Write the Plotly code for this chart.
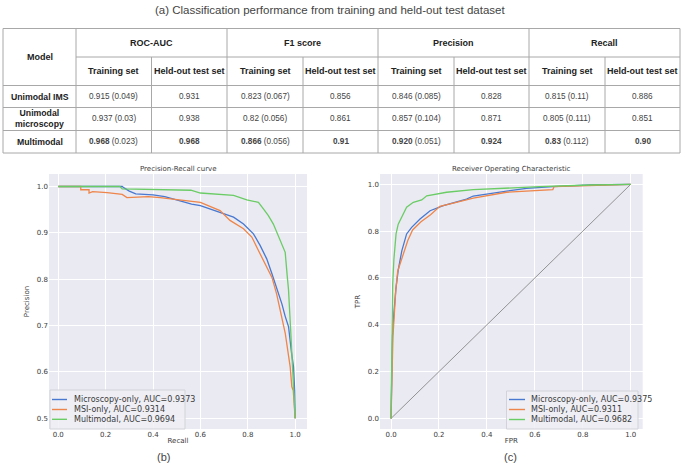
import plotly.graph_objects as go

# ---------------- data ----------------
table_title = "(a) Classification performance from training and held-out test dataset"
metrics = ["ROC-AUC", "F1 score", "Precision", "Recall"]
subheads = ["Training set", "Held-out test set"]
models = ["Unimodal IMS", "Unimodal<br>microscopy", "Multimodal"]
train_mean = [["0.915", "0.823", "0.846", "0.815"],
              ["0.937", "0.82", "0.857", "0.805"],
              ["0.968", "0.866", "0.920", "0.83"]]
train_sd = [["0.049", "0.067", "0.085", "0.11"],
            ["0.03", "0.056", "0.104", "0.111"],
            ["0.023", "0.056", "0.051", "0.112"]]
test_vals = [["0.931", "0.856", "0.828", "0.886"],
             ["0.938", "0.861", "0.871", "0.851"],
             ["0.968", "0.91", "0.924", "0.90"]]
best_model = 2

pr_micro_x = [0, 0.27, 0.278, 0.30, 0.327, 0.40, 0.45, 0.50, 0.563, 0.60, 0.683, 0.74, 0.782, 0.824,
              0.852, 0.88, 0.902, 0.929, 0.944, 0.958, 0.972, 0.985, 0.993, 0.998, 1.0]
pr_micro_y = [1.0, 1.0, 0.997, 0.99, 0.984, 0.982, 0.978, 0.971, 0.962, 0.959, 0.945, 0.934, 0.919, 0.898,
              0.873, 0.844, 0.812, 0.77, 0.747, 0.72, 0.698, 0.64, 0.611, 0.56, 0.5]
pr_msi_x = [0, 0.095, 0.095, 0.13, 0.13, 0.145, 0.206, 0.25, 0.27, 0.29, 0.38, 0.43, 0.47, 0.523, 0.60,
            0.683, 0.725, 0.782, 0.817, 0.845, 0.873, 0.902, 0.922, 0.958, 0.979, 0.986, 0.992, 1.0]
pr_msi_y = [1.0, 1.0, 0.993, 0.993, 0.986, 0.989, 0.987, 0.985, 0.983, 0.976, 0.978, 0.976, 0.974, 0.971,
            0.966, 0.948, 0.927, 0.909, 0.891, 0.862, 0.833, 0.804, 0.768, 0.684, 0.611, 0.568, 0.56, 0.5]
pr_multi_x = [0, 0.26, 0.27, 0.43, 0.56, 0.60, 0.74, 0.796, 0.845, 0.866, 0.887, 0.908, 0.929, 0.944,
              0.958, 0.966, 0.972, 0.98, 0.988, 0.995, 1.0]
pr_multi_y = [1.0, 1.0, 0.995, 0.993, 0.992, 0.986, 0.981, 0.971, 0.966, 0.952, 0.937, 0.919, 0.894, 0.873,
              0.858, 0.81, 0.777, 0.70, 0.62, 0.55, 0.5]

roc_micro_x = [0, 0.002, 0.006, 0.012, 0.02, 0.03, 0.045, 0.065, 0.086, 0.121, 0.163, 0.218, 0.315, 0.343,
               0.412, 0.482, 0.565, 0.675, 0.83, 1.0]
roc_micro_y = [0, 0.2, 0.35, 0.45, 0.55, 0.634, 0.716, 0.788, 0.816, 0.852, 0.887, 0.909, 0.937, 0.95,
               0.96, 0.972, 0.983, 0.99, 0.997, 1.0]
roc_msi_x = [0, 0.003, 0.008, 0.014, 0.02, 0.028, 0.05, 0.07, 0.09, 0.125, 0.165, 0.204, 0.26, 0.343,
             0.482, 0.60, 0.675, 0.68, 0.83, 1.0]
roc_msi_y = [0, 0.2, 0.35, 0.45, 0.55, 0.63, 0.70, 0.76, 0.805, 0.84, 0.87, 0.906, 0.92, 0.941,
             0.966, 0.973, 0.977, 0.99, 0.996, 1.0]
roc_multi_x = [0, 0.003, 0.007, 0.012, 0.021, 0.03, 0.065, 0.093, 0.128, 0.149, 0.232, 0.343, 0.48, 0.62,
               0.83, 1.0]
roc_multi_y = [0, 0.3, 0.574, 0.68, 0.788, 0.83, 0.902, 0.923, 0.933, 0.951, 0.966, 0.977, 0.985, 0.99,
               0.997, 1.0]
chance = [0, 1]

pr_names = ["Microscopy-only, AUC=0.9373", "MSI-only, AUC=0.9314", "Multimodal, AUC=0.9694"]
roc_names = ["Microscopy-only, AUC=0.9375", "MSI-only, AUC=0.9311", "Multimodal, AUC=0.9682"]
colors = ["#4878D0", "#EE854A", "#6ACC64"]

# ---------------- layout helpers ----------------
W, H = 683, 466
def px(x):
    return x / W
def py(y):
    return 1 - y / H

col_edges = [3, 76, 151.5, 227, 303, 378, 454, 529, 605, 680]
row_edges = [28.5, 57, 85.5, 107.5, 130.5, 153]
line_col = "#a8a8a8"
tfont = "Liberation Sans, Arial, sans-serif"
pfont = "DejaVu Sans, sans-serif"
txt_col = "#3a3a3a"

fig = go.Figure()
shapes = []
annotations = []

def hline(y, x0, x1, color=line_col, width=1):
    shapes.append(dict(type="line", xref="paper", yref="paper", x0=px(x0), x1=px(x1),
                       y0=py(y), y1=py(y), line=dict(color=color, width=width)))
def vline(x, y0, y1):
    shapes.append(dict(type="line", xref="paper", yref="paper", x0=px(x), x1=px(x),
                       y0=py(y0), y1=py(y1), line=dict(color=line_col, width=1)))
def cell_text(text, x0, x1, y0, y1, size=9, color="#333333"):
    annotations.append(dict(text=text, xref="paper", yref="paper", x=px((x0 + x1) / 2),
                            y=py((y0 + y1) / 2), xanchor="center", yanchor="middle",
                            showarrow=False, font=dict(family=tfont, size=size, color=color)))

# table grid
hline(row_edges[0], col_edges[0], col_edges[-1])
hline(row_edges[1], col_edges[1], col_edges[-1])
for r in row_edges[2:]:
    hline(r, col_edges[0], col_edges[-1])
for i, c in enumerate(col_edges):
    if i in (0, 1, 3, 5, 7, 9):
        vline(c, row_edges[0], row_edges[-1])
    else:
        vline(c, row_edges[1], row_edges[-1])

annotations.append(dict(text=table_title, xref="paper", yref="paper", x=px(330), y=py(10.5),
                        xanchor="center", yanchor="middle", showarrow=False,
                        font=dict(family=tfont, size=11.5, color="#444444")))
cell_text("<b>Model</b>", col_edges[0], col_edges[1], row_edges[0], row_edges[2], color="#222222")
for m, name in enumerate(metrics):
    cell_text("<b>%s</b>" % name, col_edges[1 + 2 * m], col_edges[3 + 2 * m], row_edges[0], row_edges[1],
              color="#222222")
    for s, sh in enumerate(subheads):
        cell_text("<b>%s</b>" % sh, col_edges[1 + 2 * m + s], col_edges[2 + 2 * m + s],
                  row_edges[1], row_edges[2], color="#222222")
for r, model in enumerate(models):
    y0, y1 = row_edges[2 + r], row_edges[3 + r]
    cell_text("<b>%s</b>" % model, col_edges[0], col_edges[1], y0, y1, size=8.7, color="#222222")
    for m in range(4):
        if r == best_model:
            tr = "<b>%s</b> (%s)" % (train_mean[r][m], train_sd[r][m])
            te = "<b>%s</b>" % test_vals[r][m]
        else:
            tr = "%s (%s)" % (train_mean[r][m], train_sd[r][m])
            te = test_vals[r][m]
        cell_text(tr, col_edges[1 + 2 * m], col_edges[2 + 2 * m], y0, y1, size=8.2, color="#444444")
        cell_text(te, col_edges[2 + 2 * m], col_edges[3 + 2 * m], y0, y1, size=8.2, color="#444444")

# ---------------- curves ----------------
pr_series = [(pr_micro_x, pr_micro_y), (pr_msi_x, pr_msi_y), (pr_multi_x, pr_multi_y)]
roc_series = [(roc_micro_x, roc_micro_y), (roc_msi_x, roc_msi_y), (roc_multi_x, roc_multi_y)]

for i, (xs, ys) in enumerate(pr_series):
    fig.add_trace(go.Scatter(x=xs, y=ys, mode="lines", name=pr_names[i], xaxis="x", yaxis="y",
                             line=dict(color=colors[i], width=1.3), showlegend=False))
fig.add_trace(go.Scatter(x=chance, y=chance, mode="lines", xaxis="x2", yaxis="y2", showlegend=False,
                         line=dict(color="#555555", width=0.6)))
for i, (xs, ys) in enumerate(roc_series):
    fig.add_trace(go.Scatter(x=xs, y=ys, mode="lines", name=roc_names[i], xaxis="x2", yaxis="y2",
                             line=dict(color=colors[i], width=1.3), showlegend=False))

# ---------------- legends (drawn as boxes with sample lines) ----------------
def draw_legend(names, box, line_x, text_x, rows):
    x0, y0, x1, y1 = box
    shapes.append(dict(type="rect", xref="paper", yref="paper", x0=px(x0), x1=px(x1), y0=py(y1), y1=py(y0),
                       fillcolor="rgba(238,238,244,0.85)", line=dict(color="#d2d2da", width=1), layer="above"))
    for i, name in enumerate(names):
        shapes.append(dict(type="line", xref="paper", yref="paper", x0=px(line_x[0]), x1=px(line_x[1]),
                           y0=py(rows[i]), y1=py(rows[i]), line=dict(color=colors[i], width=1.4),
                           layer="above"))
        annotations.append(dict(text=name, xref="paper", yref="paper", x=px(text_x), y=py(rows[i]),
                                xanchor="left", yanchor="middle", showarrow=False,
                                font=dict(family=pfont, size=8, color=txt_col)))

draw_legend(pr_names, (50, 390, 185, 429), (52, 67), 71.5, [399.5, 409.5, 419.3])
draw_legend(roc_names, (506.5, 391, 638, 429), (509, 525), 528.5, [399.5, 409.5, 419.5])

axis_common = dict(showgrid=True, gridcolor="white", gridwidth=1, zeroline=False, showline=False,
                   ticks="", tickfont=dict(family=pfont, size=7, color=txt_col),
                   title_font=dict(family=pfont, size=7, color=txt_col))
y_dom = [py(429), py(174)]
ticks01 = [0, 0.2, 0.4, 0.6, 0.8, 1.0]
ticks_pr = [0.5, 0.6, 0.7, 0.8, 0.9, 1.0]

fig.update_layout(
    width=W, height=H, margin=dict(l=0, r=0, t=0, b=0),
    paper_bgcolor="white", plot_bgcolor="#EAEAF2", showlegend=False,
    xaxis=dict(domain=[px(49), px(307)], range=[-0.039, 1.05], tickvals=ticks01,
               ticktext=["%.1f" % v for v in ticks01], anchor="y",
               title=dict(text="Recall", standoff=0), **axis_common),
    yaxis=dict(domain=y_dom, range=[0.477, 1.027], tickvals=ticks_pr,
               ticktext=["%.1f" % v for v in ticks_pr], anchor="x",
               title=dict(text="Precision", standoff=6), **axis_common),
    xaxis2=dict(domain=[px(380), px(642.7)], range=[-0.046, 1.05], tickvals=ticks01,
                ticktext=["%.1f" % v for v in ticks01], anchor="y2",
                title=dict(text="FPR", standoff=0), **axis_common),
    yaxis2=dict(domain=y_dom, range=[-0.045, 1.044], tickvals=ticks01,
                ticktext=["%.1f" % v for v in ticks01], anchor="x2",
                title=dict(text="TPR", standoff=6), **axis_common),
    shapes=shapes,
)

annotations += [
    dict(text="Precision-Recall curve", xref="paper", yref="paper", x=px(178), y=py(174.5),
         xanchor="center", yanchor="bottom", showarrow=False, font=dict(family=pfont, size=7, color=txt_col)),
    dict(text="Receiver Operating Characteristic", xref="paper", yref="paper", x=px(511), y=py(174.5),
         xanchor="center", yanchor="bottom", showarrow=False, font=dict(family=pfont, size=7, color=txt_col)),
    dict(text="(b)", xref="paper", yref="paper", x=px(163), y=py(457), xanchor="center", yanchor="middle",
         showarrow=False, font=dict(family=tfont, size=11, color="#444444")),
    dict(text="(c)", xref="paper", yref="paper", x=px(510), y=py(457), xanchor="center", yanchor="middle",
         showarrow=False, font=dict(family=tfont, size=11, color="#444444")),
]
fig.update_layout(annotations=annotations)

fig.write_html("out.html", config={"displayModeBar": False},
               post_script="document.body.style.margin='0';document.body.style.overflow='hidden';")
